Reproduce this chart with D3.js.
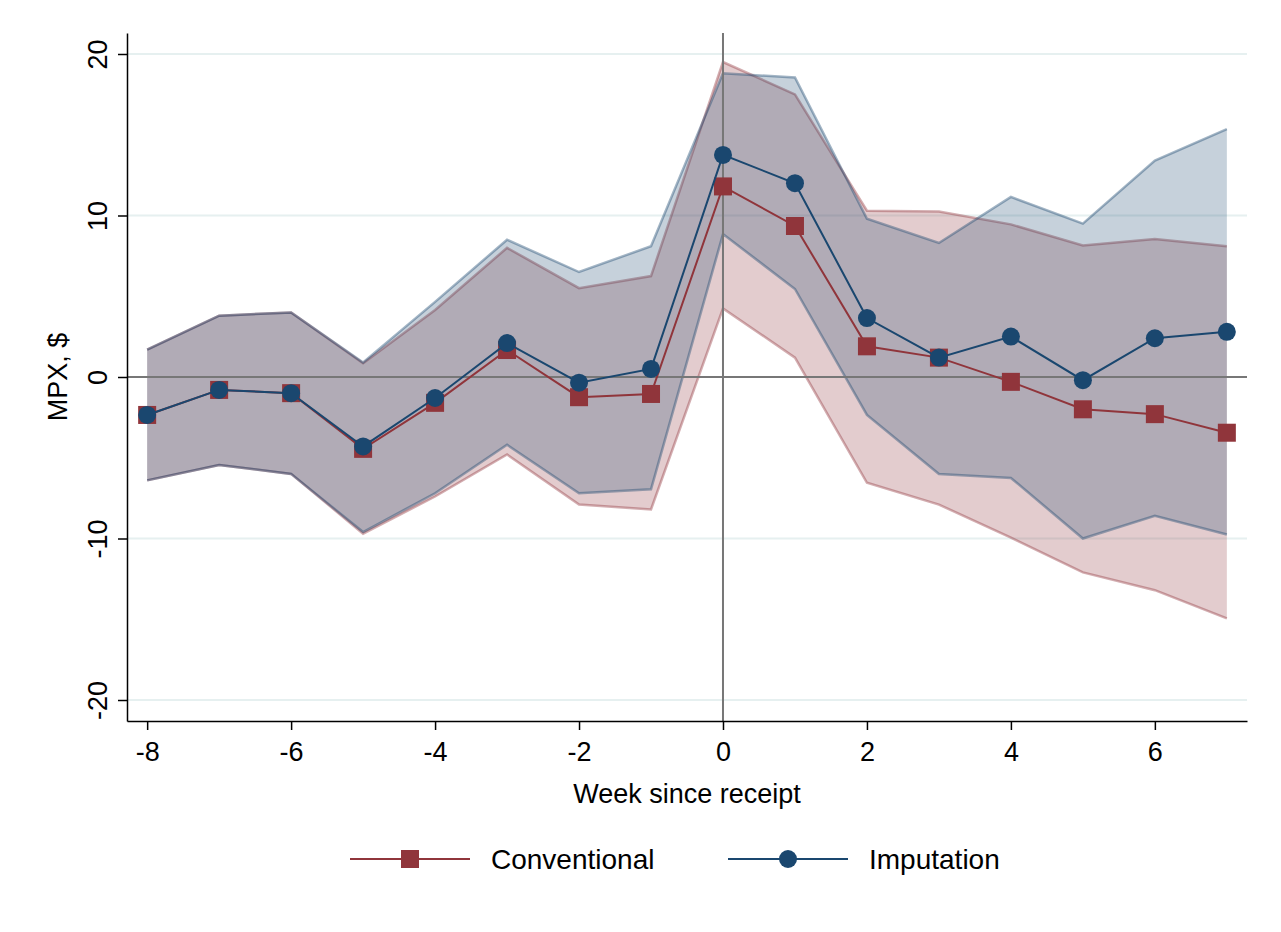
<!DOCTYPE html>
<html><head><meta charset="utf-8">
<script src="https://cdn.jsdelivr.net/npm/d3@7"></script>
<style>body{margin:0;background:#fff}text{font-family:"Liberation Sans",Arial,sans-serif}</style>
</head><body><svg width="1281" height="932"></svg>
<script>
var weeks = [-8,-7,-6,-5,-4,-3,-2,-1,0,1,2,3,4,5,6,7];
var convEst = [-2.35,-0.8,-1.0,-4.45,-1.6,1.67,-1.25,-1.05,11.8,9.35,1.9,1.2,-0.3,-2.0,-2.3,-3.45];
var convHi = [1.7,3.8,4.0,0.85,4.15,8.0,5.5,6.25,19.5,17.5,10.3,10.25,9.45,8.15,8.55,8.1];
var convLo = [-6.4,-5.45,-6.0,-9.7,-7.4,-4.8,-7.9,-8.2,4.25,1.2,-6.55,-7.9,-9.95,-12.1,-13.2,-14.95];
var impEst = [-2.35,-0.8,-1.0,-4.3,-1.3,2.1,-0.35,0.5,13.75,12.0,3.65,1.2,2.5,-0.2,2.4,2.8];
var impHi = [1.7,3.8,4.0,0.9,4.65,8.5,6.5,8.1,18.8,18.55,9.8,8.3,11.15,9.5,13.4,15.35];
var impLo = [-6.4,-5.45,-6.0,-9.6,-7.2,-4.2,-7.2,-6.95,8.85,5.45,-2.35,-6.0,-6.25,-10.0,-8.6,-9.75];
var xTicks = [-8,-6,-4,-2,0,2,4,6];
var yTicks = [-20,-10,0,10,20];

var svg = d3.select("svg");
var x = d3.scaleLinear().domain([-8.28,7.28]).range([127,1247]);
var y = d3.scaleLinear().domain([-21.3,21.3]).range([721,33]);

svg.append("g").selectAll("line").data(yTicks).enter().append("line")
  .attr("x1",127).attr("x2",1247).attr("y1",d=>y(d)).attr("y2",d=>y(d))
  .attr("stroke","#e6f0f0").attr("stroke-width",2);

var series = [
  {est:convEst,hi:convHi,lo:convLo,col:"#90353b",fill:"rgba(144,53,59,0.25)",edge:"rgba(144,53,59,0.4)",sym:"square"},
  {est:impEst,hi:impHi,lo:impLo,col:"#1a476f",fill:"rgba(26,71,111,0.25)",edge:"rgba(26,71,111,0.4)",sym:"circle"}
];
series.forEach(function(s){
  var area = d3.area().x((d,i)=>x(weeks[i])).y0((d,i)=>y(s.lo[i])).y1(d=>y(d));
  svg.append("path").attr("d",area(s.hi)).attr("fill",s.fill);
  var ln = d3.line().x((d,i)=>x(weeks[i])).y(d=>y(d));
  [s.hi,s.lo].forEach(a=>svg.append("path").attr("d",ln(a)).attr("fill","none").attr("stroke",s.edge).attr("stroke-width",2.5));
});

svg.append("line").attr("x1",x(0)).attr("x2",x(0)).attr("y1",33).attr("y2",721).attr("stroke","#777").attr("stroke-width",2);
svg.append("line").attr("x1",127).attr("x2",1247).attr("y1",y(0)).attr("y2",y(0)).attr("stroke","#777").attr("stroke-width",2);

series.forEach(function(s){
  var ln = d3.line().x((d,i)=>x(weeks[i])).y(d=>y(d));
  svg.append("path").attr("d",ln(s.est)).attr("fill","none").attr("stroke",s.col).attr("stroke-width",2);
  s.est.forEach(function(v,i){
    if(s.sym==="square") svg.append("rect").attr("x",x(weeks[i])-9).attr("y",y(v)-9).attr("width",18).attr("height",18).attr("fill",s.col);
    else svg.append("circle").attr("cx",x(weeks[i])).attr("cy",y(v)).attr("r",9).attr("fill",s.col);
  });
});

var fmt = d=>d<0?"-"+(-d):String(d);
var gx = svg.append("g").attr("transform","translate(0,721)").call(d3.axisBottom(x).tickValues(xTicks).tickSize(9).tickFormat(fmt).tickSizeOuter(0));
gx.selectAll("text").attr("font-size",27).attr("fill","#000").attr("dy","1.05em");
var gy = svg.append("g").attr("transform","translate(127,0)").call(d3.axisLeft(y).tickValues(yTicks).tickSize(9).tickFormat(fmt).tickSizeOuter(0));
gy.selectAll(".tick text").attr("font-size",27).attr("fill","#000")
  .attr("x",0).attr("y",0).attr("dy",0).attr("text-anchor","middle")
  .attr("transform","translate(-20,0) rotate(-90)");
[gx,gy].forEach(g=>{g.selectAll("path,line").attr("stroke","#000").attr("stroke-width",1.5);});

svg.append("text").attr("x",687).attr("y",803).attr("text-anchor","middle").attr("font-size",27).text("Week since receipt");
svg.append("text").attr("transform","translate(67,377) rotate(-90)").attr("text-anchor","middle").attr("font-size",27).text("MPX, $");

var leg = [{n:"Conventional",c:"#90353b",s:"square",x:350},{n:"Imputation",c:"#1a476f",s:"circle",x:728}];
leg.forEach(function(l){
  svg.append("line").attr("x1",l.x).attr("x2",l.x+120).attr("y1",859).attr("y2",859).attr("stroke",l.c).attr("stroke-width",2);
  if(l.s==="square") svg.append("rect").attr("x",l.x+51).attr("y",850).attr("width",18).attr("height",18).attr("fill",l.c);
  else svg.append("circle").attr("cx",l.x+60).attr("cy",859).attr("r",9).attr("fill",l.c);
  svg.append("text").attr("x",l.x+141).attr("y",869).attr("font-size",28).text(l.n);
});
</script></body></html>
